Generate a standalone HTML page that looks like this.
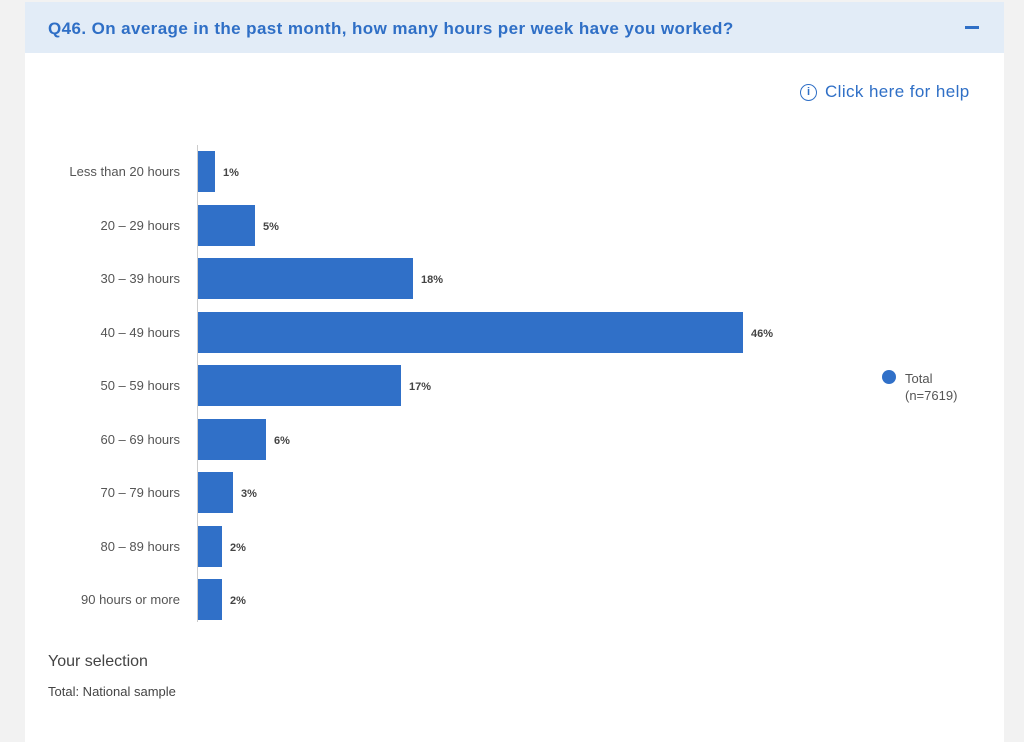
<!DOCTYPE html>
<html><head><style>
body{margin:0;width:1024px;height:742px;background:#f2f2f2;font-family:"Liberation Sans",sans-serif;position:relative;overflow:hidden}
.panel{position:absolute;left:25px;top:2px;width:979px;height:740px;background:#fff}
.hdr{position:absolute;left:25px;top:2px;width:979px;height:51px;background:#e2ecf7}
.title{position:absolute;left:48px;top:19px;font-size:17px;font-weight:bold;color:#2f6fc6;letter-spacing:0.4px}
.minus{position:absolute;left:965px;top:26px;width:14px;height:3px;background:#2f6fc6}
.help{position:absolute;left:825px;top:82px;font-size:17px;color:#2f6fc6;letter-spacing:0.4px}
.icon{position:absolute;left:800px;top:84px;width:15px;height:15px;border:1.5px solid #2f6fc6;border-radius:50%;color:#2f6fc6;font-size:11px;text-align:center;line-height:15px;font-weight:bold}
.lab{position:absolute;right:844px;font-size:13px;color:#555;white-space:nowrap}
.bar{position:absolute;left:198px;height:41px;background:#3070c8}
.val{position:absolute;font-size:11px;font-weight:bold;color:#444;margin-top:2px}
.axis{position:absolute;left:197px;top:145px;width:1px;height:477px;background:#ccc}
</style></head><body>
<div class="panel"></div><div class="hdr"></div>
<div class="title">Q46. On average in the past month, how many hours per week have you worked?</div>
<div class="minus"></div>
<div class="icon">i</div><div class="help">Click here for help</div>
<div class="axis"></div>
<div class="lab" style="top:164px">Less than 20 hours</div><div class="bar" style="top:151px;width:17px"></div><div class="val" style="left:223px;top:165px">1%</div>
<div class="lab" style="top:218px">20 – 29 hours</div><div class="bar" style="top:205px;width:57px"></div><div class="val" style="left:263px;top:219px">5%</div>
<div class="lab" style="top:271px">30 – 39 hours</div><div class="bar" style="top:258px;width:215px"></div><div class="val" style="left:421px;top:272px">18%</div>
<div class="lab" style="top:325px">40 – 49 hours</div><div class="bar" style="top:312px;width:545px"></div><div class="val" style="left:751px;top:326px">46%</div>
<div class="lab" style="top:378px">50 – 59 hours</div><div class="bar" style="top:365px;width:203px"></div><div class="val" style="left:409px;top:379px">17%</div>
<div class="lab" style="top:432px">60 – 69 hours</div><div class="bar" style="top:419px;width:68px"></div><div class="val" style="left:274px;top:433px">6%</div>
<div class="lab" style="top:485px">70 – 79 hours</div><div class="bar" style="top:472px;width:35px"></div><div class="val" style="left:241px;top:486px">3%</div>
<div class="lab" style="top:539px">80 – 89 hours</div><div class="bar" style="top:526px;width:24px"></div><div class="val" style="left:230px;top:540px">2%</div>
<div class="lab" style="top:592px">90 hours or more</div><div class="bar" style="top:579px;width:24px"></div><div class="val" style="left:230px;top:593px">2%</div>
<div style="position:absolute;left:882px;top:370px;width:14px;height:14px;border-radius:50%;background:#3070c8"></div>
<div style="position:absolute;left:905px;top:370px;font-size:13px;color:#555;line-height:17px">Total<br>(n=7619)</div>
<div style="position:absolute;left:48px;top:653px;font-size:16px;color:#444">Your selection</div>
<div style="position:absolute;left:48px;top:684px;font-size:13px;color:#444">Total: National sample</div>
</body></html>
